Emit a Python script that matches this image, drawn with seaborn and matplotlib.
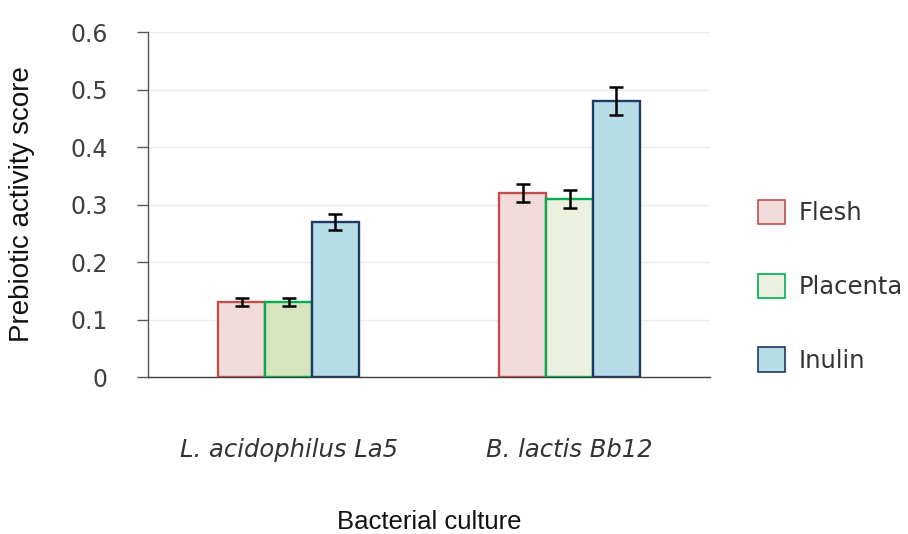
import numpy as np
import pandas as pd
import matplotlib
matplotlib.use('Agg')
import matplotlib.pyplot as plt
import seaborn as sns
from matplotlib.patches import Patch

cultures = ["L. acidophilus La5", "B. lactis Bb12"]
substrates = ["Flesh", "Placenta", "Inulin"]
flesh = [0.13, 0.32]
placenta = [0.13, 0.31]
inulin = [0.27, 0.48]
flesh_err = [0.007, 0.016]
placenta_err = [0.007, 0.016]
inulin_err = [0.014, 0.024]
yticks = [0, 0.1, 0.2, 0.3, 0.4, 0.5, 0.6]
ytick_labels = ["0", "0.1", "0.2", "0.3", "0.4", "0.5", "0.6"]

face = {("Flesh", 0): "#f2dcdb", ("Flesh", 1): "#f2dcdb",
        ("Placenta", 0): "#d7e4bd", ("Placenta", 1): "#ebf1de",
        ("Inulin", 0): "#b7dde8", ("Inulin", 1): "#b7dde8"}
edge = {"Flesh": "#c0504d", "Placenta": "#00b050", "Inulin": "#1f3864"}

sns.set_theme(style="white")
plt.rcParams['font.family'] = ['DejaVu Sans']

df = pd.DataFrame({
    "culture": cultures * 3,
    "substrate": np.repeat(substrates, 2),
    "score": flesh + placenta + inulin,
    "err": flesh_err + placenta_err + inulin_err,
})

fig = plt.figure(figsize=(9.08, 5.34), dpi=100)
ax = fig.add_axes([0.163, 0.294, 0.619, 0.646])
sns.barplot(data=df, x="culture", y="score", hue="substrate", order=cultures,
            hue_order=substrates, width=0.5, errorbar=None, legend=False, ax=ax)

bw = 0.5 / 3
for p in list(ax.patches):
    cx = p.get_x() + p.get_width() / 2
    i = int(round(cx))
    j = int(round((cx - i) / bw)) + 1
    sub = substrates[j]
    p.set_facecolor(face[(sub, i)])
    p.set_edgecolor(edge[sub])
    p.set_linewidth(1.7)
    p.set_zorder(3)
    row = df[(df.culture == cultures[i]) & (df.substrate == sub)].iloc[0]
    ax.errorbar(cx, row.score, yerr=row.err, fmt="none", ecolor="black",
                elinewidth=1.8, capsize=5, capthick=1.8, zorder=4)

ax.set_xlim(-0.5, 1.5)
ax.set_ylim(0, 0.6)
ax.set_yticks(yticks)
ax.set_yticklabels(ytick_labels, fontsize=17, color="#404040")
ax.yaxis.grid(True, color="#ebebeb", lw=1)
ax.xaxis.grid(False)
ax.set_axisbelow(True)
for s in ["top", "right"]:
    ax.spines[s].set_visible(False)
ax.spines["left"].set_color("#595959")
ax.spines["bottom"].set_color("#404040")
ax.spines["left"].set_linewidth(1)
ax.spines["bottom"].set_linewidth(1)
ax.tick_params(axis="y", length=8, width=1, color="#595959", pad=21, left=True)
ax.tick_params(axis="x", length=0, pad=44)
for t in ax.get_xticklabels():
    t.set_fontsize(17.5)
    t.set_fontstyle("italic")
    t.set_color("#333333")

ax.set_xlabel("Bacterial culture", fontsize=18.5, family=["Liberation Sans"], color="#111111")
ax.set_ylabel("Prebiotic activity score", fontsize=20, family=["Liberation Sans"], color="#111111")
ax.xaxis.label.set_va("center")
ax.xaxis.set_label_coords(0.5, -0.42)
ax.yaxis.label.set_va("center")
ax.yaxis.set_label_coords(-0.224, 0.5)

handles = [Patch(facecolor=face[(s, 1)], edgecolor=edge[s], lw=1.2) for s in substrates]
leg = fig.legend(handles, substrates, loc="center left", bbox_to_anchor=(0.835, 0.464),
                 frameon=False, fontsize=17.5, handlelength=1.1, handleheight=1.15,
                 labelspacing=2.0, handletextpad=0.55, borderpad=0, borderaxespad=0)
for t in leg.get_texts():
    t.set_color("#333333")

fig.savefig("out.png", dpi=100)
